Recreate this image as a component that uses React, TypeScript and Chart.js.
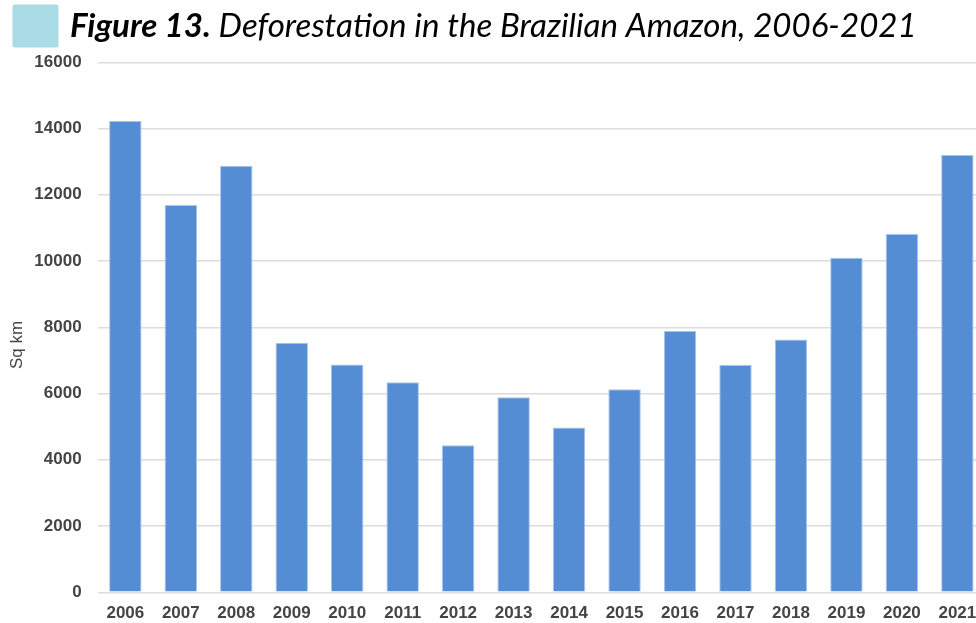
import { useEffect, useRef } from "react";
import { Chart, registerables } from "chart.js";

Chart.register(...registerables);

// Annual clear-cut area (PRODES), square kilometres
const years = [
  "2006", "2007", "2008", "2009", "2010", "2011", "2012", "2013",
  "2014", "2015", "2016", "2017", "2018", "2019", "2020", "2021",
];
const areaSqKm = [
  14230, 11690, 12880, 7535, 6880, 6340, 4440, 5890,
  4975, 6130, 7890, 6865, 7635, 10100, 10820, 13200,
];
const yTicks = [0, 2000, 4000, 6000, 8000, 10000, 12000, 14000, 16000];

const titleBold = "Figure 13.";
const titleRest = " Deforestation in the Brazilian Amazon, 2006-2021";
const axisTitle = "Sq km";

const CANVAS_W = 992;
const CANVAS_H = 623;
const PLOT_LEFT = 97.6;
const PLOT_TOP = 62.3;
const PLOT_BOTTOM = 592.3;

const headerPlugin = {
  id: "header",
  afterDraw(chart: any) {
    const ctx: CanvasRenderingContext2D = chart.ctx;
    ctx.save();

    // light-blue swatch left of the heading
    ctx.fillStyle = "#a9dce6";
    ctx.beginPath();
    (ctx as any).roundRect(12.5, 4.5, 46, 43, 2);
    ctx.fill();

    // heading: bold-italic figure number, italic caption
    const family = "Lato, 'Open Sans', sans-serif";
    const base = 30;
    ctx.font = `italic bold ${base}px ${family}`;
    const wb = ctx.measureText(titleBold).width;
    ctx.font = `italic ${base}px ${family}`;
    const wr = ctx.measureText(titleRest).width;
    const size = (base * 847) / (wb + wr);

    ctx.fillStyle = "#000";
    ctx.textAlign = "left";
    ctx.textBaseline = "alphabetic";
    ctx.font = `italic bold ${size}px ${family}`;
    const boldW = ctx.measureText(titleBold).width;
    ctx.fillText(titleBold, 70, 36.7);
    ctx.font = `italic ${size}px ${family}`;
    ctx.fillText(titleRest, 70 + boldW, 36.7);

    // vertical axis caption
    ctx.translate(17, 345);
    ctx.rotate(-Math.PI / 2);
    ctx.textAlign = "center";
    ctx.textBaseline = "middle";
    ctx.fillStyle = "#444";
    ctx.font = "17px 'Liberation Sans', Arial, sans-serif";
    ctx.fillText(axisTitle, 0, 0);

    ctx.restore();
  },
};

export default function App() {
  const ref = useRef<HTMLCanvasElement | null>(null);

  useEffect(() => {
    if (!ref.current) return;
    const tickFont = { family: "'Liberation Sans', Arial, sans-serif", size: 17, weight: "bold" as const };

    const chart = new Chart(ref.current, {
      type: "bar",
      data: {
        labels: years,
        datasets: [
          {
            data: areaSqKm,
            backgroundColor: "#558dd5",
            borderColor: "#a8c5ec",
            borderWidth: 1,
            categoryPercentage: 1,
            barPercentage: 0.585,
          },
        ],
      },
      options: {
        responsive: false,
        animation: false,
        layout: { padding: { top: PLOT_TOP, left: 0, right: CANVAS_W - 985.1, bottom: 0 } },
        plugins: {
          legend: { display: false },
          tooltip: { enabled: false },
          title: { display: false },
        },
        scales: {
          x: {
            grid: { display: false, drawTicks: false },
            border: { display: false },
            ticks: { color: "#444", font: tickFont, padding: 11, maxRotation: 0, autoSkip: false },
            afterFit(scale: any) {
              scale.height = CANVAS_H - PLOT_BOTTOM;
            },
          },
          y: {
            min: yTicks[0],
            max: yTicks[yTicks.length - 1],
            grid: { color: "#dcdcdc", lineWidth: 1.5, drawTicks: false },
            border: { display: false },
            ticks: {
              stepSize: yTicks[1] - yTicks[0],
              color: "#444",
              font: tickFont,
              padding: 16,
              callback: (v: any) => String(v),
            },
            afterFit(scale: any) {
              scale.width = PLOT_LEFT;
            },
          },
        },
      },
      plugins: [headerPlugin],
    });

    return () => chart.destroy();
  }, []);

  return (
    <div
      style={{
        position: "fixed",
        left: 0,
        top: 0,
        width: 976,
        height: CANVAS_H,
        overflow: "hidden",
        background: "#fff",
      }}
    >
      <canvas ref={ref} width={CANVAS_W} height={CANVAS_H} style={{ display: "block" }} />
    </div>
  );
}
